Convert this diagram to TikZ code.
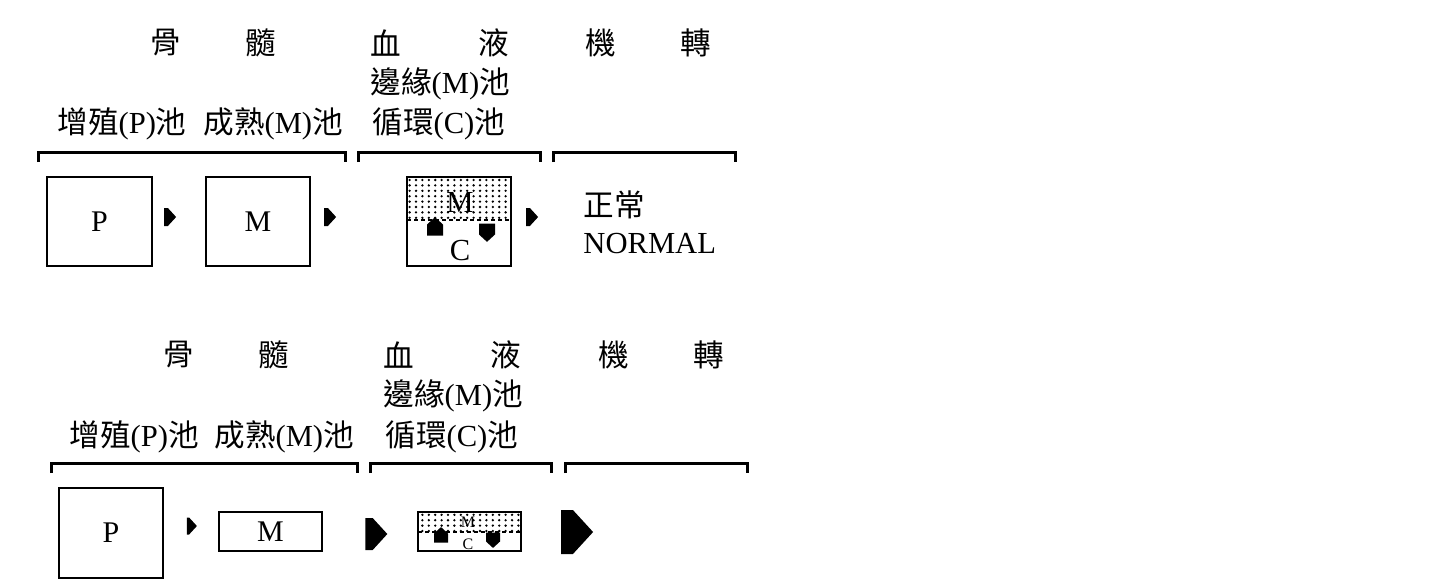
\documentclass[tikz,border=0pt]{standalone}
\usepackage{fontspec}
\setmainfont{Liberation Serif}
\newfontfamily\cjk{Noto Sans CJK TC}
\usetikzlibrary{shapes.symbols,patterns}
\pgfdeclarepatternformonly{pooldots}{\pgfqpoint{-1pt}{-1pt}}{\pgfqpoint{2pt}{2pt}}{\pgfqpoint{3.2pt}{2.7pt}}{%
  \pgfpathcircle{\pgfqpoint{0pt}{0pt}}{0.65pt}\pgfusepath{fill}}
\tikzstyle{label}=[anchor=west,inner sep=0pt,font=\fontsize{15.3}{18}\selectfont]
\tikzstyle{pool}=[draw,line width=1pt,inner sep=0pt,font=\fontsize{15}{18}\selectfont]
\tikzstyle{small}=[inner sep=0pt,font=\fontsize{8}{9}\selectfont]
\tikzstyle{bracket}=[draw,line width=1.5pt]
\tikzstyle{tip}=[signal,signal pointer angle=95,fill=black,inner sep=0pt,outer sep=0pt]
\tikzstyle{dotted area}=[pattern=pooldots,pattern color=black]
\tikzstyle{border}=[draw,dashed,line width=1pt,dash pattern=on 2pt off 1.5pt]
\newcommand{\zh}[1]{{\cjk #1}}

\begin{document}
\begin{tikzpicture}[x=0.5pt,y=-0.5pt]
\useasboundingbox (0,0) rectangle (1454,585);

% normal
\node[label] (bone1) at (150,43) {\zh{骨}};
\node[label] (marrow1) at (245,43) {\zh{髓}};
\node[label] (blood1) at (370,43) {\zh{血}};
\node[label] (liquid1) at (478,43) {\zh{液}};
\node[label] (organ1) at (585,43) {\zh{機}};
\node[label] (turn1) at (680,43) {\zh{轉}};
\node[label] (margin1) at (370,84) {\zh{邊緣}(M)\zh{池}};
\node[label] (prolif1) at (57,124) {\zh{增殖}(P)\zh{池}};
\node[label] (mature1) at (203,124) {\zh{成熟}(M)\zh{池}};
\node[label] (circ1) at (372,124) {\zh{循環}(C)\zh{池}};

\draw [bracket] (38,162) -- (38,152) -- (345,152) -- (345,162);
\draw [bracket] (358,162) -- (358,152) -- (540,152) -- (540,162);
\draw [bracket] (553,162) -- (553,152) -- (735,152) -- (735,162);

\node[pool,minimum width=52.5pt,minimum height=44.5pt] (P1) at (99.5,221.5) {P};
\node[pool,minimum width=52pt,minimum height=44.5pt] (M1) at (258,221.5) {M};
\path[dotted area] (407,177) rectangle (511,220);
\node[pool,minimum width=52pt,minimum height=44.5pt] (pool1) at (459,221.5) {};
\draw [border] (407,220) -- (511,220);
\node[label,anchor=center] (pm1) at (460,202) {M};
\node[label,anchor=center] (pc1) at (460,251) {C};
\node[tip,signal to=north,minimum width=8pt,minimum height=5.5pt] (up1) at (435,230) {};
\node[tip,signal to=south,minimum width=8pt,minimum height=5.5pt] (down1) at (487,229) {};

\node[tip,signal to=east,minimum width=6pt,minimum height=9pt] (t1) at (166,217) {};
\node[tip,signal to=east,minimum width=6pt,minimum height=9pt] (t2) at (326,217) {};
\node[tip,signal to=east,minimum width=6pt,minimum height=9pt] (t3) at (528,217) {};

\node[label] (normal1) at (583,205) {\zh{正常}};
\node[label] (normal2) at (583,244) {NORMAL};

% second row
\node[label] (bone2) at (163,355) {\zh{骨}};
\node[label] (marrow2) at (258,355) {\zh{髓}};
\node[label] (blood2) at (383,355) {\zh{血}};
\node[label] (liquid2) at (490,355) {\zh{液}};
\node[label] (organ2) at (598,355) {\zh{機}};
\node[label] (turn2) at (693,355) {\zh{轉}};
\node[label] (margin2) at (383,396) {\zh{邊緣}(M)\zh{池}};
\node[label] (prolif2) at (69,437) {\zh{增殖}(P)\zh{池}};
\node[label] (mature2) at (214,437) {\zh{成熟}(M)\zh{池}};
\node[label] (circ2) at (385,437) {\zh{循環}(C)\zh{池}};

\draw [bracket] (51,473) -- (51,463) -- (357,463) -- (357,473);
\draw [bracket] (370,473) -- (370,463) -- (551,463) -- (551,473);
\draw [bracket] (565,473) -- (565,463) -- (747,463) -- (747,473);

\node[pool,minimum width=52pt,minimum height=45pt] (P2) at (111,533) {P};
\node[pool,minimum width=51.5pt,minimum height=19.5pt] (M2) at (270.5,531.5) {M};
\path[dotted area] (418,512) rectangle (521,532);
\node[pool,minimum width=51.5pt,minimum height=19.5pt] (pool2) at (469.5,531.5) {};
\draw [border] (418,532) -- (521,532);
\node[small] (pm2) at (468,522) {M};
\node[small] (pc2) at (468,544) {C};
\node[tip,signal to=north,minimum width=7pt,minimum height=4.5pt] (up2) at (441,538) {};
\node[tip,signal to=south,minimum width=7pt,minimum height=4.5pt] (down2) at (493,537) {};

\node[tip,signal to=east,minimum width=5pt,minimum height=8.5pt] (u1) at (188,526) {};
\node[tip,signal to=east,minimum width=11pt,minimum height=16pt] (u2) at (369,534) {};
\node[tip,signal to=east,minimum width=16pt,minimum height=22pt] (u3) at (567,532) {};

\end{tikzpicture}
\end{document}
